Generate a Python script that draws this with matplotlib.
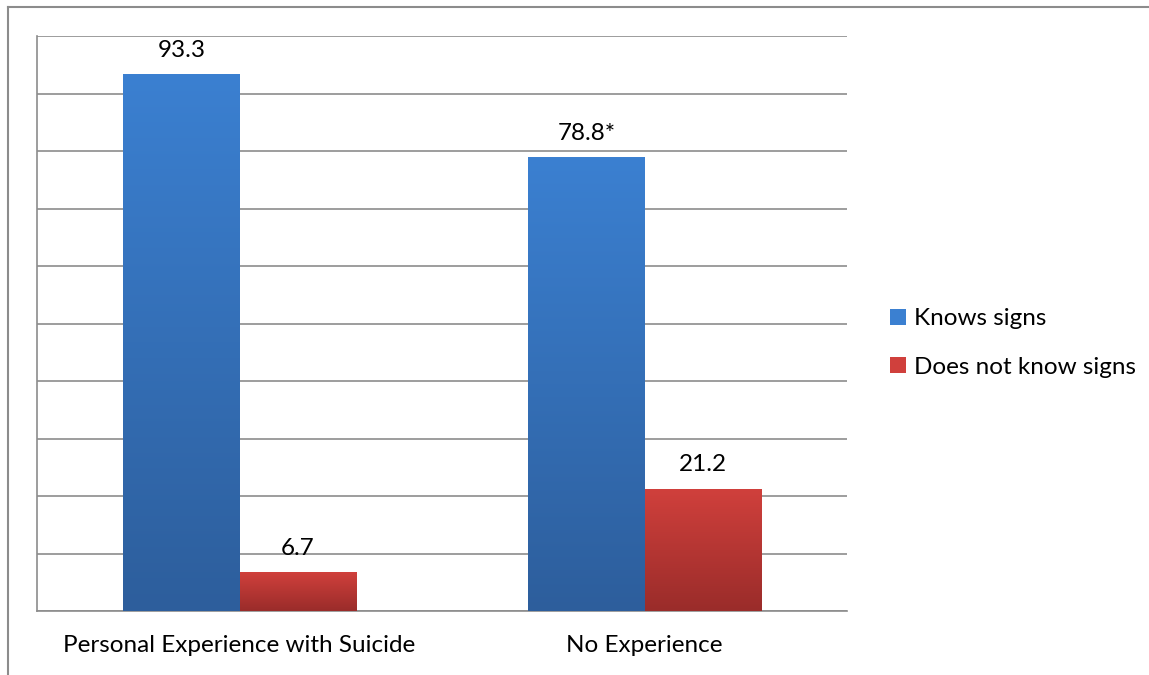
import numpy as np
import matplotlib.pyplot as plt
from matplotlib.colors import LinearSegmentedColormap
from matplotlib.patches import Patch
from matplotlib.lines import Line2D

categories = ["Personal Experience with Suicide", "No Experience"]
series_names = ["Knows signs", "Does not know signs"]
knows = [93.3, 78.8]
not_knows = [6.7, 21.2]
value_labels = [["93.3", "78.8*"], ["6.7", "21.2"]]

# top / bottom colours of the bar gradients
grad = [("#3B80D1", "#2D5E9C"), ("#D0403C", "#9A2C2A")]

plt.rcParams['font.family'] = ['Lato', 'DejaVu Sans']
fs = 17.5

fig = plt.figure(figsize=(11.49, 6.75), dpi=100)
ax = fig.add_axes([37 / 1149, 64 / 675, 810 / 1149, 575 / 675])

width = 0.287
x = np.arange(len(categories))
grid = np.linspace(1, 0, 256).reshape(-1, 1)

for i, vals in enumerate([knows, not_knows]):
    cmap = LinearSegmentedColormap.from_list("g%d" % i, [grad[i][1], grad[i][0]])
    offs = (i - 0.5) * width
    for j, v in enumerate(vals):
        x0 = x[j] + offs - width / 2
        ax.imshow(grid, cmap=cmap, extent=[x0, x0 + width, 0, v],
                  aspect='auto', interpolation='bilinear', zorder=3)
        ax.text(x[j] + offs, v + 4.2, value_labels[i][j], ha='center',
                va='center', fontsize=fs)

ax.set_xlim(-0.5, 1.5)
ax.set_ylim(0, 100)
ax.set_yticks(np.arange(0, 101, 10))
ax.set_yticklabels([])
ax.tick_params(left=False, bottom=False)
ax.set_xticks(x)
ax.set_xticklabels(categories, fontsize=fs)
ax.tick_params(axis='x', pad=14)
ax.grid(axis='y', color='#8c8c8c', lw=1.2, zorder=0)
for s in ['top', 'right']:
    ax.spines[s].set_visible(False)
for s in ['left', 'bottom']:
    ax.spines[s].set_color('#8c8c8c')
    ax.spines[s].set_linewidth(1.2)

handles = [Patch(facecolor=grad[0][0]), Patch(facecolor=grad[1][0])]
fig.legend(handles, series_names, loc='center left',
           bbox_to_anchor=(868 / 1149, 1 - 343 / 675), frameon=False,
           fontsize=fs, handlelength=0.68, handleheight=0.68,
           handletextpad=0.3, labelspacing=1.12)

# outer chart border (only left and top visible in the crop)
fig.add_artist(Line2D([8 / 1149, 8 / 1149], [0, 1 - 7 / 675], color='#8c8c8c', lw=1.5))
fig.add_artist(Line2D([8 / 1149, 1], [1 - 7 / 675, 1 - 7 / 675], color='#8c8c8c', lw=1.5))

fig.savefig("out.png", dpi=100)
